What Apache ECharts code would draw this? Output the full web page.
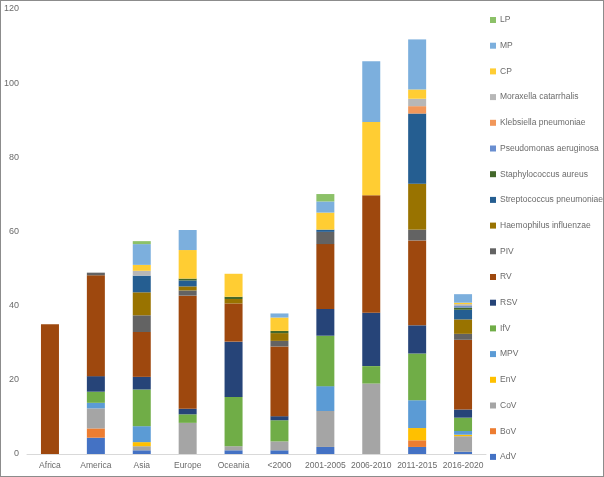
<!DOCTYPE html>
<html>
<head>
<meta charset="utf-8">
<script src="https://cdn.jsdelivr.net/npm/echarts@6.0.0/dist/echarts.min.js"></script>
<style>
  html, body { margin: 0; padding: 0; background: #fff; }
  #frame { width: 604px; height: 477px; box-sizing: border-box; border: 1px solid #8c8c8c; }
  #chart { width: 602px; height: 475px; }
</style>
</head>
<body>
<div id="frame"><div id="chart"></div></div>
<script>
// stacked bars, bottom -> top
const categories = ["Africa", "America", "Asia", "Europe", "Oceania", "<2000", "2001-2005", "2006-2010", "2011-2015", "2016-2020"];

const AdV    = [0, 4.4, 1.0, 0, 1.0, 1.0, 1.9, 0, 1.9, 0.6];
const BoV    = [0, 2.5, 0, 0, 0, 0, 0, 0, 1.8, 0];
const CoV    = [0, 5.4, 1.1, 8.4, 1.1, 2.4, 9.7, 19.0, 0, 4.2];
const EnV    = [0, 0, 1.1, 0, 0, 0, 0, 0, 3.3, 0.4];
const MPV    = [0, 1.5, 4.3, 0, 0, 0, 6.7, 0, 7.5, 1.0];
const IfV    = [0, 3.0, 9.9, 2.3, 13.3, 5.7, 13.6, 4.7, 12.6, 3.6];
const RSV    = [0, 4.2, 3.4, 1.5, 14.9, 1.1, 7.2, 14.4, 7.6, 2.2];
const RV     = [35, 27.2, 12.1, 30.5, 10.3, 18.8, 17.5, 31.7, 22.9, 18.8];
const PIV    = [0, 0.7, 4.5, 1.4, 0, 1.5, 3.3, 0, 2.9, 1.6];
const Haem   = [0, 0, 6.2, 1.1, 1.2, 2.1, 0, 0, 12.4, 3.9];
const Strep  = [0, 0, 4.5, 1.6, 0, 0, 0.6, 0, 18.9, 2.6];
const Staph  = [0, 0, 0, 0.5, 0.6, 0.6, 0, 0, 0, 0.6];
const Pseudo = [0, 0, 0, 0, 0, 0, 0, 0, 0, 0.4];
const Kleb   = [0, 0, 0, 0, 0, 0, 0, 0, 2.0, 0];
const Morax  = [0, 0, 1.3, 0, 0, 0, 0, 0, 2.0, 0.5];
const CP     = [0, 0, 1.6, 7.7, 6.2, 3.6, 4.6, 19.7, 2.5, 0.4];
const MP     = [0, 0, 5.6, 5.4, 0, 1.1, 3.0, 16.4, 13.5, 2.3];
const LP     = [0, 0, 0.8, 0, 0, 0, 2.0, 0, 0, 0];

const yTicks = [0, 20, 40, 60, 80, 100, 120];

const layers = [
  ["AdV", AdV, "#4472C4"],
  ["BoV", BoV, "#ED7D31"],
  ["CoV", CoV, "#A5A5A5"],
  ["EnV", EnV, "#FFC000"],
  ["MPV", MPV, "#5B9BD5"],
  ["IfV", IfV, "#70AD47"],
  ["RSV", RSV, "#264478"],
  ["RV", RV, "#9E480E"],
  ["PIV", PIV, "#636363"],
  ["Haemophilus influenzae", Haem, "#997300"],
  ["Streptococcus pneumoniae", Strep, "#255E91"],
  ["Staphylococcus aureus", Staph, "#43682B"],
  ["Pseudomonas aeruginosa", Pseudo, "#698ED0"],
  ["Klebsiella pneumoniae", Kleb, "#F1975A"],
  ["Moraxella catarrhalis", Morax, "#B7B7B7"],
  ["CP", CP, "#FFCD33"],
  ["MP", MP, "#7CAFDD"],
  ["LP", LP, "#8CC168"],
];

const FONT = "'Liberation Sans', Arial, sans-serif";
const TXT = "#6b6b6b";

const chart = echarts.init(document.getElementById("chart"), null, { renderer: "canvas" });

chart.setOption({
  animation: false,
  backgroundColor: "#fff",
  textStyle: { fontFamily: FONT },
  grid: { left: 25, right: 117, top: 8, bottom: 22, containLabel: false },
  legend: {
    orient: "vertical",
    left: 489,
    top: 13,
    padding: 0,
    itemWidth: 6,
    itemHeight: 6,
    itemGap: 13.7,
    icon: "rect",
    data: layers.map((l) => l[0]).reverse(),
    textStyle: { color: TXT, fontSize: 8.5, fontFamily: FONT, lineHeight: 12, padding: [0, 0, 0, -1] },
  },
  xAxis: {
    type: "category",
    data: categories,
    axisLine: { lineStyle: { color: "#d9d9d9" } },
    axisTick: { show: false },
    axisLabel: { color: TXT, fontSize: 8.5, fontFamily: FONT, margin: 7, interval: 0 },
  },
  yAxis: {
    type: "value",
    min: yTicks[0],
    max: yTicks[yTicks.length - 1],
    interval: yTicks[1] - yTicks[0],
    axisLine: { show: false },
    axisTick: { show: false },
    splitLine: { show: false },
    axisLabel: { color: TXT, fontSize: 9, fontFamily: FONT, margin: 8 },
  },
  series: layers.map(([name, data, color]) => ({
    name,
    type: "bar",
    stack: "total",
    barWidth: 18,
    data,
    itemStyle: { color },
  })),
});
</script>
</body>
</html>
